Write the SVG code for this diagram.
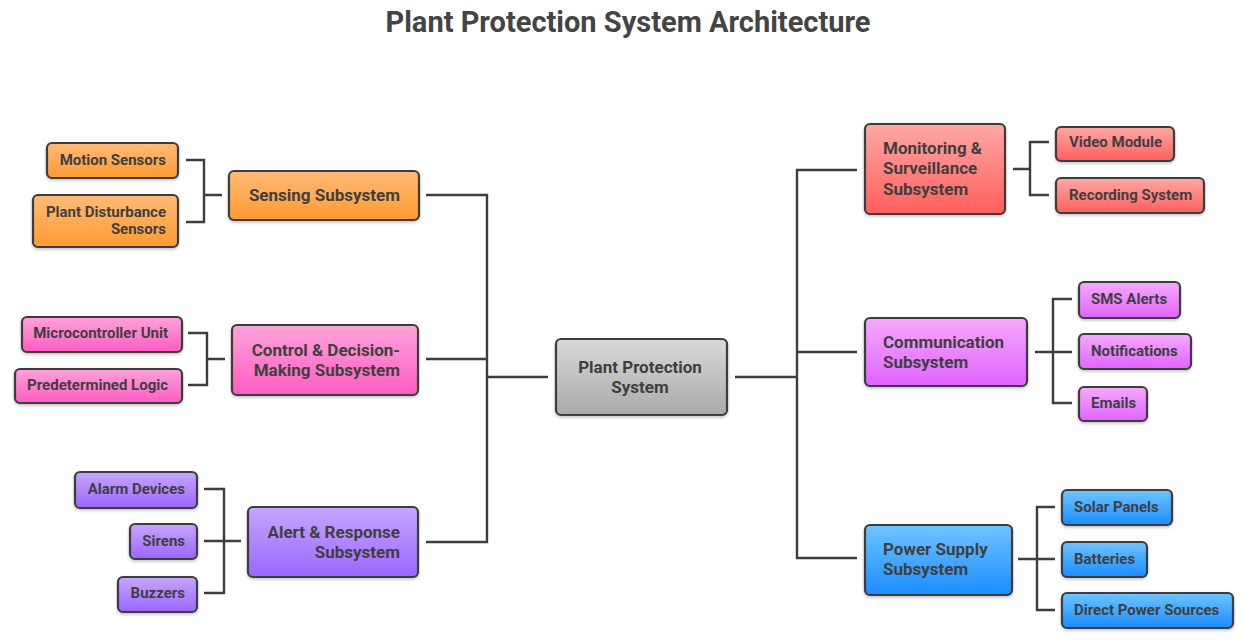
<svg xmlns="http://www.w3.org/2000/svg" width="1245" height="641" viewBox="0 0 1245 641">
<defs>
<linearGradient id="gOrange" x1="0" y1="0" x2="0" y2="1"><stop offset="0" stop-color="#ffbb78"/><stop offset="1" stop-color="#ff9a30"/></linearGradient>
<linearGradient id="gPink" x1="0" y1="0" x2="0" y2="1"><stop offset="0" stop-color="#ffa3da"/><stop offset="1" stop-color="#ff5cc2"/></linearGradient>
<linearGradient id="gPurple" x1="0" y1="0" x2="0" y2="1"><stop offset="0" stop-color="#c6a6ff"/><stop offset="1" stop-color="#9a66ff"/></linearGradient>
<linearGradient id="gGray" x1="0" y1="0" x2="0" y2="1"><stop offset="0" stop-color="#d9d9d9"/><stop offset="1" stop-color="#a9a9a9"/></linearGradient>
<linearGradient id="gRed" x1="0" y1="0" x2="0" y2="1"><stop offset="0" stop-color="#ffa8a5"/><stop offset="1" stop-color="#ff5f5c"/></linearGradient>
<linearGradient id="gMagenta" x1="0" y1="0" x2="0" y2="1"><stop offset="0" stop-color="#f6aaff"/><stop offset="1" stop-color="#e063ff"/></linearGradient>
<linearGradient id="gBlue" x1="0" y1="0" x2="0" y2="1"><stop offset="0" stop-color="#70c4ff"/><stop offset="1" stop-color="#1a8cff"/></linearGradient>
<filter id="sh" x="-10%" y="-10%" width="120%" height="130%"><feDropShadow dx="0" dy="1.5" stdDeviation="1.5" flood-color="#000" flood-opacity="0.25"/></filter>
</defs>
<style>
.box{stroke:#3d3d3d;stroke-width:2.2;filter:url(#sh)}
.t{font-family:Roboto,"Liberation Sans",sans-serif;font-weight:bold;font-size:15px;fill:#3f3f3f}
.m{font-size:17px}
.r{text-anchor:end}
.c{text-anchor:middle}
.conn{fill:none;stroke:#3d3d3d;stroke-width:2.4}
.title{font-family:Roboto,"Liberation Sans",sans-serif;font-weight:bold;font-size:29px;fill:#444;text-anchor:middle}
</style>
<rect width="1245" height="641" fill="#ffffff"/>
<text class="title" x="628" y="32">Plant Protection System Architecture</text>

<g id="connectors">
<path class="conn" d="M186,160 H204 V222 H186 M204,195 H222"/>
<path class="conn" d="M188,333 H207 V385 H188 M207,359 H225"/>
<path class="conn" d="M204,489 H224 V593 H204 M204,541 H241"/>
<path class="conn" d="M426,195 H487 V542 H426 M426,359 H487 M487,377 H548"/>
<path class="conn" d="M735,377 H797 M857,170 H797 V558 H857 M797,352 H857"/>
<path class="conn" d="M1013,169 H1030 M1049,142 H1030 V195 H1049"/>
<path class="conn" d="M1035,352 H1072 M1072,299 H1053 V403 H1072"/>
<path class="conn" d="M1018,559 H1055 M1055,507 H1037 V610 H1055"/>
</g>

<g id="motion-sensors"><rect class="box" x="47" y="143" width="131" height="35" rx="5" fill="url(#gOrange)"/><text class="t r" x="166" y="165">Motion Sensors</text></g>
<g id="plant-disturbance-sensors"><rect class="box" x="33" y="195" width="145" height="52" rx="5" fill="url(#gOrange)"/><text class="t r" x="166" y="217">Plant Disturbance</text><text class="t r" x="166" y="234">Sensors</text></g>
<g id="sensing-subsystem"><rect class="box" x="229" y="171" width="190" height="49" rx="5" fill="url(#gOrange)"/><text class="t m r" x="400" y="201">Sensing Subsystem</text></g>

<g id="microcontroller-unit"><rect class="box" x="22" y="317" width="160" height="35" rx="5" fill="url(#gPink)"/><text class="t r" x="168" y="338">Microcontroller Unit</text></g>
<g id="predetermined-logic"><rect class="box" x="15" y="369" width="167" height="34" rx="5" fill="url(#gPink)"/><text class="t r" x="168" y="390">Predetermined Logic</text></g>
<g id="control-subsystem"><rect class="box" x="232" y="325" width="186" height="70" rx="5" fill="url(#gPink)"/><text class="t m r" x="400" y="356">Control &amp; Decision-</text><text class="t m r" x="400" y="376">Making Subsystem</text></g>

<g id="alarm-devices"><rect class="box" x="75" y="472" width="122" height="36" rx="5" fill="url(#gPurple)"/><text class="t r" x="185" y="494">Alarm Devices</text></g>
<g id="sirens"><rect class="box" x="130" y="524" width="67" height="35" rx="5" fill="url(#gPurple)"/><text class="t r" x="185" y="546">Sirens</text></g>
<g id="buzzers"><rect class="box" x="118" y="577" width="79" height="35" rx="5" fill="url(#gPurple)"/><text class="t r" x="185" y="598">Buzzers</text></g>
<g id="alert-subsystem"><rect class="box" x="248" y="507" width="170" height="70" rx="5" fill="url(#gPurple)"/><text class="t m r" x="400" y="538">Alert &amp; Response</text><text class="t m r" x="400" y="558">Subsystem</text></g>

<g id="plant-protection-system"><rect class="box" x="556" y="339" width="171" height="76" rx="5" fill="url(#gGray)"/><text class="t m c" x="640" y="373">Plant Protection</text><text class="t m c" x="640" y="393">System</text></g>

<g id="monitoring-subsystem"><rect class="box" x="865" y="124" width="140" height="90" rx="5" fill="url(#gRed)"/><text class="t m" x="883" y="154">Monitoring &amp;</text><text class="t m" x="883" y="174">Surveillance</text><text class="t m" x="883" y="195">Subsystem</text></g>
<g id="video-module"><rect class="box" x="1056" y="127" width="118" height="34" rx="5" fill="url(#gRed)"/><text class="t" x="1069" y="147">Video Module</text></g>
<g id="recording-system"><rect class="box" x="1056" y="178" width="148" height="35" rx="5" fill="url(#gRed)"/><text class="t" x="1069" y="200">Recording System</text></g>

<g id="communication-subsystem"><rect class="box" x="865" y="318" width="162" height="68" rx="5" fill="url(#gMagenta)"/><text class="t m" x="883" y="348">Communication</text><text class="t m" x="883" y="368">Subsystem</text></g>
<g id="sms-alerts"><rect class="box" x="1079" y="282" width="101" height="36" rx="5" fill="url(#gMagenta)"/><text class="t" x="1091" y="304">SMS Alerts</text></g>
<g id="notifications"><rect class="box" x="1079" y="334" width="112" height="35" rx="5" fill="url(#gMagenta)"/><text class="t" x="1091" y="356">Notifications</text></g>
<g id="emails"><rect class="box" x="1079" y="387" width="68" height="34" rx="5" fill="url(#gMagenta)"/><text class="t" x="1091" y="408">Emails</text></g>

<g id="power-subsystem"><rect class="box" x="865" y="525" width="147" height="70" rx="5" fill="url(#gBlue)"/><text class="t m" x="883" y="555">Power Supply</text><text class="t m" x="883" y="575">Subsystem</text></g>
<g id="solar-panels"><rect class="box" x="1062" y="490" width="110" height="35" rx="5" fill="url(#gBlue)"/><text class="t" x="1074" y="512">Solar Panels</text></g>
<g id="batteries"><rect class="box" x="1062" y="542" width="85" height="35" rx="5" fill="url(#gBlue)"/><text class="t" x="1074" y="564">Batteries</text></g>
<g id="direct-power-sources"><rect class="box" x="1062" y="593" width="171" height="35" rx="5" fill="url(#gBlue)"/><text class="t" x="1074" y="615">Direct Power Sources</text></g>
</svg>
